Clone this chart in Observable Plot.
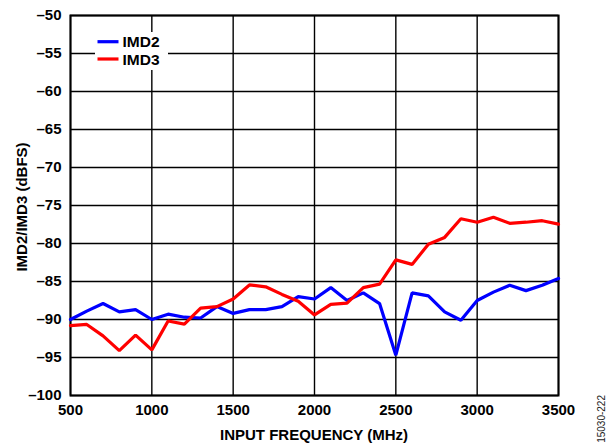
<!DOCTYPE html>
<html>
<head>
<meta charset="utf-8">
<script src="https://cdn.jsdelivr.net/npm/d3@7"></script>
<script src="https://cdn.jsdelivr.net/npm/@observablehq/plot@0.6"></script>
<style>
  html, body { margin: 0; padding: 0; background: #fff; }
  #chart svg { display: block; }
</style>
</head>
<body>
<div id="chart"></div>
<script>
const freq = [500,600,700,800,900,1000,1100,1200,1300,1400,1500,1600,1700,1800,1900,2000,2100,2200,2300,2400,2500,2600,2700,2800,2900,3000,3100,3200,3300,3400,3500];
const imd2 = [-90.0,-88.9,-87.9,-89.0,-88.7,-90.0,-89.3,-89.7,-89.8,-88.3,-89.2,-88.7,-88.7,-88.3,-87.0,-87.3,-85.8,-87.5,-86.5,-87.9,-94.7,-86.5,-86.9,-89.0,-90.1,-87.5,-86.4,-85.5,-86.2,-85.5,-84.6];
const imd3 = [-90.8,-90.65,-92.15,-94.1,-92.05,-94.0,-90.2,-90.6,-88.5,-88.3,-87.3,-85.45,-85.7,-86.7,-87.6,-89.4,-88.0,-87.85,-85.8,-85.35,-82.15,-82.75,-80.1,-79.2,-76.75,-77.2,-76.55,-77.35,-77.2,-77.0,-77.45];
const seriesNames = ["IMD2", "IMD3"];
const seriesColors = ["#0000ff", "#ff0000"];
const xTicks = [500,1000,1500,2000,2500,3000,3500];
const yTicks = [-100,-95,-90,-85,-80,-75,-70,-65,-60,-55,-50];
const xLabel = "INPUT FREQUENCY (MHz)";
const yLabel = "IMD2/IMD3 (dBFS)";
const figId = "15030-222";

const rows2 = freq.map((f, i) => ({f, v: imd2[i], s: seriesNames[0]}));
const rows3 = freq.map((f, i) => ({f, v: imd3[i], s: seriesNames[1]}));
const fmt = d => d < 0 ? "\u2013" + Math.abs(d) : String(d);

const W = 614, H = 444, mL = 70, mR = 56, mT = 15, mB = 49;

const chart = Plot.plot({
  width: W, height: H,
  marginLeft: mL, marginRight: mR, marginTop: mT, marginBottom: mB,
  style: "font-family:'Liberation Sans',Arial,Helvetica,sans-serif;font-weight:bold;font-size:15px;color:#000;background:#fff;overflow:visible;",
  x: {domain: [500, 3500]},
  y: {domain: [-100, -50]},
  marks: [
    Plot.gridX(xTicks, {stroke: "#000", strokeOpacity: 1, strokeWidth: 1.4}),
    Plot.gridY(yTicks, {stroke: "#000", strokeOpacity: 1, strokeWidth: 1.4}),
    Plot.frame({stroke: "#000", strokeWidth: 2}),
    Plot.line(rows2, {x: "f", y: "v", stroke: seriesColors[0], strokeWidth: 3.2, strokeLinejoin: "miter"}),
    Plot.line(rows3, {x: "f", y: "v", stroke: seriesColors[1], strokeWidth: 3.2, strokeLinejoin: "miter"}),
    Plot.axisX(xTicks, {tickSize: 0, tickPadding: 9, tickFormat: d => String(d), label: null}),
    Plot.axisY(yTicks, {tickSize: 0, tickPadding: 9, tickFormat: fmt, label: null})
  ]
});

const svg = d3.select(chart);
// legend
const leg = svg.append("g");
leg.append("rect").attr("x", 95).attr("y", 32).attr("width", 73).attr("height", 38).attr("fill", "#fff");
seriesNames.forEach((n, i) => {
  const yy = 41.7 + i * 17.3;
  leg.append("line").attr("x1", 97.5).attr("x2", 118.5).attr("y1", yy).attr("y2", yy)
    .attr("stroke", seriesColors[i]).attr("stroke-width", 3.2);
  leg.append("text").attr("x", 122.5).attr("y", yy).attr("dy", "0.36em")
    .attr("text-anchor", "start").attr("font-size", 15.5).attr("fill", "#000").text(n);
});
// axis labels
svg.append("text").attr("x", (mL + W - mR) / 2).attr("y", 440).attr("text-anchor", "middle")
  .attr("fill", "#000").attr("font-size", 15).text(xLabel);
svg.append("text").attr("transform", `translate(26.5,${(mT + H - mB) / 2 + 2}) rotate(-90)`)
  .attr("text-anchor", "middle").attr("fill", "#000").attr("font-size", 15).text(yLabel);
svg.append("text").attr("transform", `translate(605,395) rotate(-90)`)
  .attr("text-anchor", "end").attr("fill", "#222").attr("font-weight", "normal")
  .attr("font-size", 10).attr("font-family", "'Liberation Sans Narrow','Liberation Sans',Arial,sans-serif").text(figId);

document.getElementById("chart").appendChild(chart);
</script>
</body>
</html>
